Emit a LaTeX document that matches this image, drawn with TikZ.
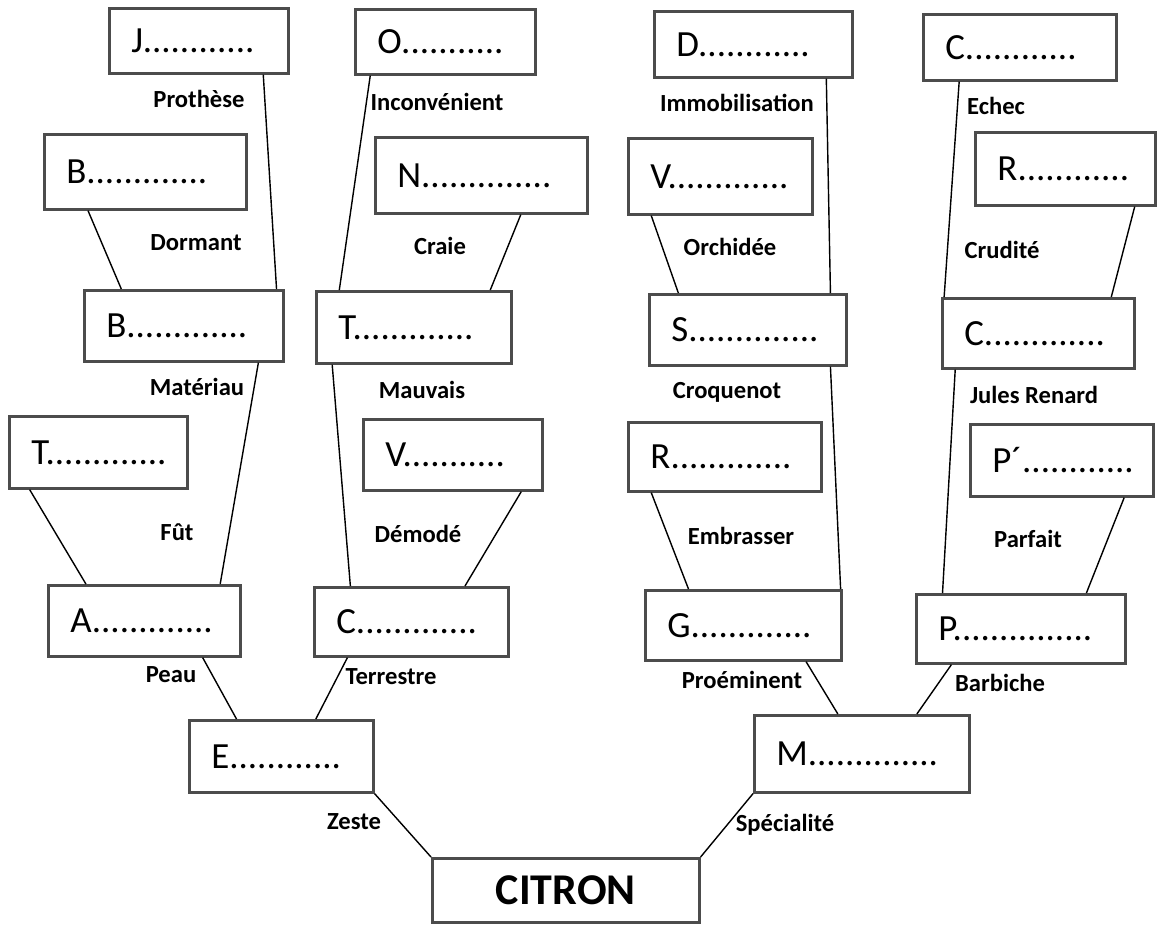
\documentclass[tikz,border=0pt]{standalone}
\usepackage{fontspec}
\setmainfont{Carlito}
\usetikzlibrary{calc}
\begin{document}
\begin{tikzpicture}[x=0.02cm,y=-0.02cm,
    case/.style 2 args={draw=black!70,line width=1.5pt,anchor=north west,
      inner xsep=0.44cm,inner ysep=0pt,text width=#1,minimum height=#2,
      align=left,font=\fontsize{21}{24}\selectfont},
    indice/.style={font=\fontsize{14}{16}\selectfont\bfseries},
    lien/.style={line width=0.8pt}]
  \useasboundingbox (0,0) rectangle (1158,924);

  % ligne du haut
  \node [case={2.70cm}{1.30cm}] (j)  at (108,7)   {J............};
  \node [case={2.72cm}{1.30cm}] (o)  at (354,8)   {O...........};
  \node [case={3.08cm}{1.32cm}] (d)  at (653,10)  {D............};
  \node [case={2.98cm}{1.32cm}] (ce) at (922,13)  {C............};

  \node [case={3.16cm}{1.50cm}] (bb) at (43,133)  {B.............};
  \node [case={3.36cm}{1.52cm}] (n)  at (374,136) {N..............};
  \node [case={2.80cm}{1.52cm}] (vo) at (627,137) {V.............};
  \node [case={2.72cm}{1.46cm}] (rc) at (974,131) {R............};

  \node [case={3.10cm}{1.42cm}] (b)  at (83,289)  {B.............};
  \node [case={3.02cm}{1.44cm}] (tm) at (315,290) {T.............};
  \node [case={3.06cm}{1.42cm}] (s)  at (648,293) {S..............};
  \node [case={2.96cm}{1.40cm}] (cj) at (941,297) {C.............};

  \node [case={2.68cm}{1.44cm}] (t)  at (8,415)   {T.............};
  \node [case={2.70cm}{1.42cm}] (v)  at (362,418) {V...........};
  \node [case={2.98cm}{1.38cm}] (r)  at (627,421) {R.............};
  \node [case={2.78cm}{1.44cm}] (pp) at (969,423) {P´............};

  \node [case={2.96cm}{1.42cm}] (a)  at (47,584)  {A.............};
  \node [case={3.00cm}{1.38cm}] (c)  at (313,586) {C.............};
  \node [case={3.04cm}{1.40cm}] (g)  at (644,589) {G.............};
  \node [case={3.30cm}{1.38cm}] (p)  at (915,593) {P...............};

  \node [case={2.80cm}{1.44cm}] (e)  at (188,719) {E............};
  \node [case={3.42cm}{1.54cm}] (m)  at (753,714) {M..............};

  \node [draw=black!70,line width=1.5pt,anchor=north west,minimum width=5.34cm,
    minimum height=1.28cm,font=\fontsize{25}{28}\selectfont\bfseries] (citron) at (431,857) {CITRON};

  % traits
  \draw [lien] (e.south east) -- (citron.north west);
  \draw [lien] (m.south west) -- (citron.north east);
  \draw [lien] ($(a.south west)!.80!(a.south east)$) -- ($(e.north west)!.26!(e.north east)$);
  \draw [lien] ($(c.south west)!.175!(c.south east)$) -- ($(e.north west)!.685!(e.north east)$);
  \draw [lien] ($(t.south west)!.12!(t.south east)$) -- ($(a.north west)!.20!(a.north east)$);
  \draw [lien] ($(b.south west)!.87!(b.south east)$) -- ($(a.north west)!.89!(a.north east)$);
  \draw [lien] ($(bb.south west)!.22!(bb.south east)$) -- ($(b.north west)!.19!(b.north east)$);
  \draw [lien] ($(j.south west)!.855!(j.south east)$) -- ($(b.north west)!.96!(b.north east)$);
  \draw [lien] ($(tm.south west)!.087!(tm.south east)$) -- ($(c.north west)!.19!(c.north east)$);
  \draw [lien] ($(v.south west)!.877!(v.south east)$) -- ($(c.north west)!.773!(c.north east)$);
  \draw [lien] ($(o.south west)!.089!(o.south east)$) -- ($(tm.north west)!.123!(tm.north east)$);
  \draw [lien] ($(n.south west)!.684!(n.south east)$) -- ($(tm.north west)!.887!(tm.north east)$);
  \draw [lien] ($(g.south west)!.816!(g.south east)$) -- ($(m.north west)!.39!(m.north east)$);
  \draw [lien] ($(p.south west)!.172!(p.south east)$) -- ($(m.north west)!.753!(m.north east)$);
  \draw [lien] ($(r.south west)!.124!(r.south east)$) -- ($(g.north west)!.224!(g.north east)$);
  \draw [lien] ($(s.south west)!.914!(s.south east)$) -- ($(g.north west)!.99!(g.north east)$);
  \draw [lien] ($(vo.south west)!.13!(vo.south east)$) -- ($(s.north west)!.152!(s.north east)$);
  \draw [lien] ($(d.south west)!.864!(d.south east)$) -- ($(s.north west)!.914!(s.north east)$);
  \draw [lien] ($(cj.south west)!.073!(cj.south east)$) -- ($(p.north west)!.13!(p.north east)$);
  \draw [lien] ($(pp.south west)!.836!(pp.south east)$) -- ($(p.north west)!.81!(p.north east)$);
  \draw [lien] ($(ce.south west)!.19!(ce.south east)$) -- ($(cj.north west)!.016!(cj.north east)$);
  \draw [lien] ($(rc.south west)!.88!(rc.south east)$) -- ($(cj.north west)!.875!(cj.north east)$);

  % indices
  \node [indice] (i1)  at (199,99)  {Prothèse};
  \node [indice] (i2)  at (437,102) {Inconvénient};
  \node [indice] (i3)  at (737,103) {Immobilisation};
  \node [indice] (i4)  at (996,106) {Echec};
  \node [indice] (i5)  at (196,243) {Dormant};
  \node [indice] (i6)  at (440,246) {Craie};
  \node [indice] (i7)  at (730,247) {Orchidée};
  \node [indice] (i8)  at (1002,250) {Crudité};
  \node [indice] (i9)  at (197,387) {Matériau};
  \node [indice] (i10) at (422,390) {Mauvais};
  \node [indice] (i11) at (727,392) {Croquenot};
  \node [indice] (i12) at (1034,395) {Jules Renard};
  \node [indice] (i13) at (177,532) {Fût};
  \node [indice] (i14) at (418,534) {Démodé};
  \node [indice] (i15) at (741,536) {Embrasser};
  \node [indice] (i16) at (1028,539) {Parfait};
  \node [indice] (i17) at (171,675) {Peau};
  \node [indice] (i18) at (391,677) {Terrestre};
  \node [indice] (i19) at (742,680) {Proéminent};
  \node [indice] (i20) at (1000,683) {Barbiche};
  \node [indice] (i21) at (354,822) {Zeste};
  \node [indice] (i22) at (785,825) {Spécialité};
\end{tikzpicture}
\end{document}
